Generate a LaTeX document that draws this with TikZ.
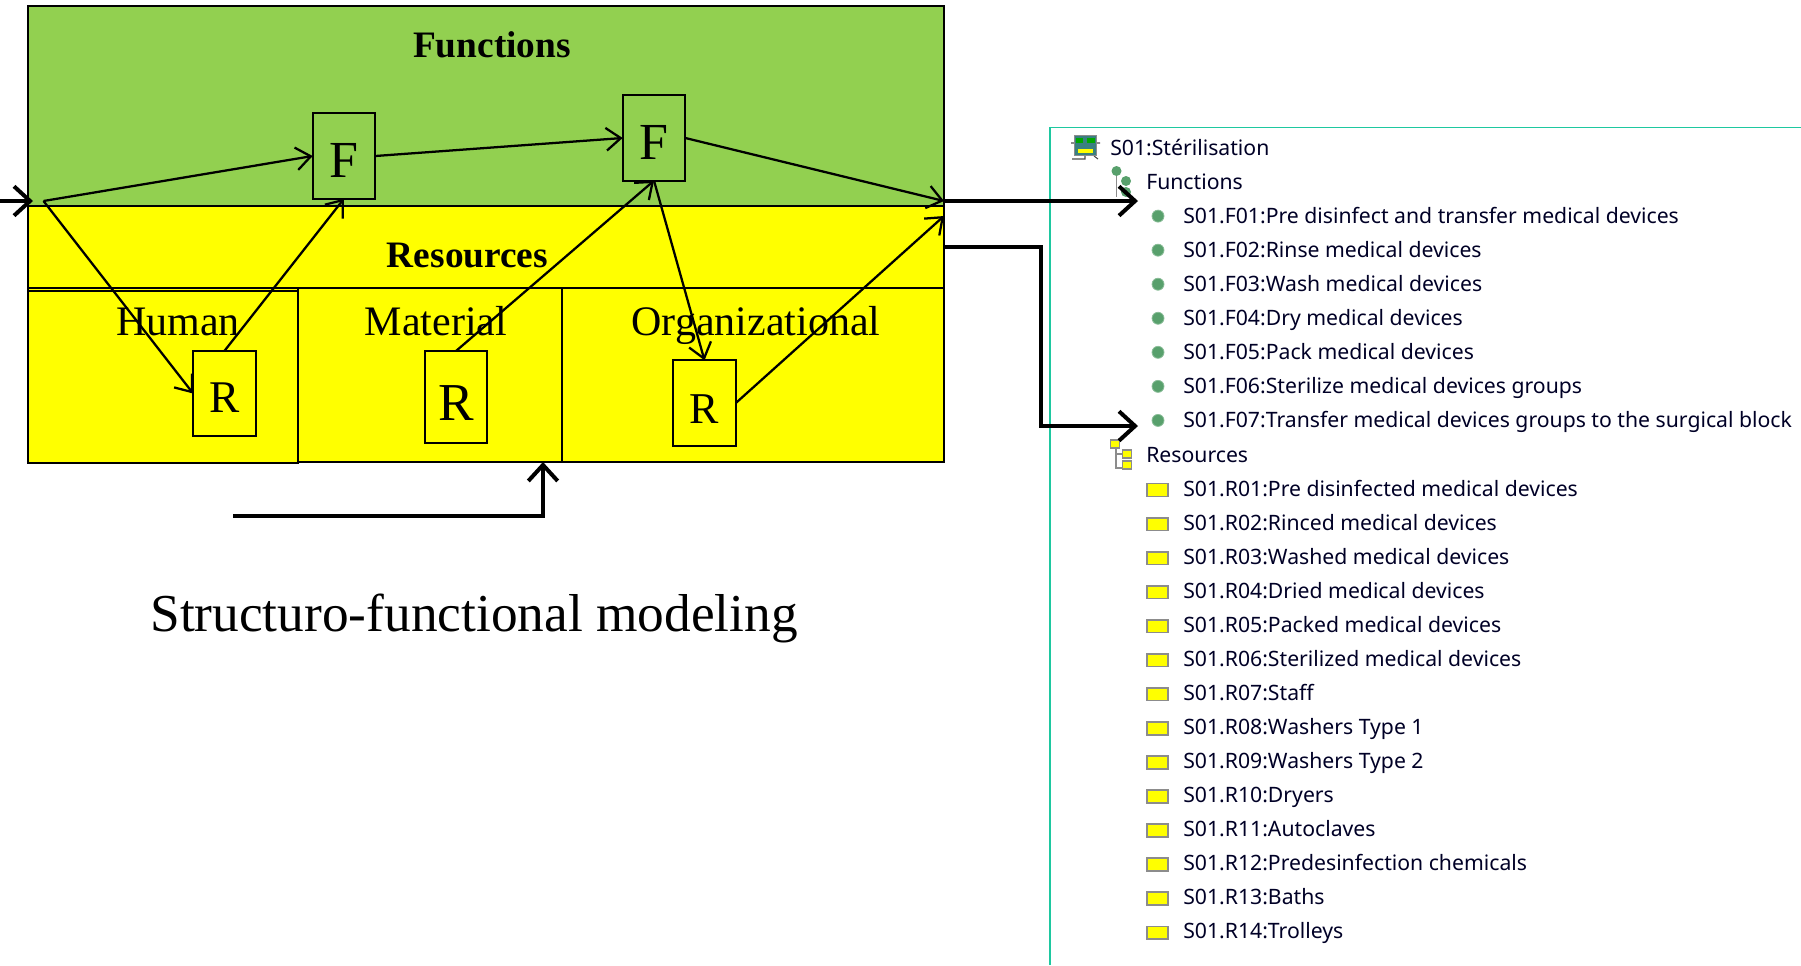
\documentclass[tikz,border=0pt]{standalone}
\usepackage{fontspec}
\setmainfont{Liberation Serif}
\newfontfamily\treefont{Noto Sans}
\usetikzlibrary{arrows.meta}
\definecolor{fungreen}{RGB}{146,208,80}
\definecolor{resyellow}{RGB}{255,255,0}
\definecolor{panelteal}{RGB}{30,200,160}
\definecolor{dotgreen}{RGB}{88,160,108}
\definecolor{icongrey}{RGB}{140,140,140}
\newcommand{\fsize}[1]{\fontsize{#1}{#1}\selectfont}
\tikzset{
  region/.style={draw,line width=1.5pt,anchor=north west,inner sep=0pt,outer sep=0pt},
  boxF/.style={draw,line width=1.5pt,fill=fungreen,inner sep=0pt,outer sep=0pt,minimum width=47pt,minimum height=64pt,font=\fsize{39},text height=31.5pt,text depth=0pt},
  boxR/.style={draw,line width=1.5pt,fill=resyellow,inner sep=0pt,outer sep=0pt,minimum width=47pt,text depth=0pt},
  title/.style={font=\fsize{28}\bfseries,inner sep=0pt},
  part/.style={font=\fsize{31.5},inner sep=0pt,anchor=base},
  flow/.style={line width=1.7pt,-{Straight Barb[length=11pt,width=17pt,line width=1.7pt]}},
  bigflow/.style={line width=3pt,-{Straight Barb[length=12pt,width=22pt,line width=3pt]}},
  rowtext/.style={font=\treefont\fsize{15.9},anchor=base west,inner sep=0pt,text=black!85!blue},
  fundot/.style={circle,fill=dotgreen,draw=dotgreen!70!white,line width=.6pt,minimum size=9pt,inner sep=0pt},
  resmark/.style={draw=icongrey,fill=resyellow,line width=1.2pt,minimum width=15.5pt,minimum height=9.5pt,inner sep=0pt},
  smallres/.style={draw=icongrey,fill=resyellow,line width=.8pt,minimum width=7pt,minimum height=6pt,inner sep=0pt},
  smalldot/.style={circle,fill=dotgreen,minimum size=7.5pt,inner sep=0pt},
  setpart/.style={inner sep=0pt,minimum height=3.5pt}
}
\begin{document}
\begin{tikzpicture}[x=.75pt,y=-.75pt]
\useasboundingbox (0,0) rectangle (1801,965);
% left block
\node[region,fill=fungreen,minimum width=687pt,minimum height=150pt] (functions) at (28,6) {};
\node[region,fill=resyellow,minimum width=687pt,minimum height=192pt] (resources) at (28,206) {};
\node[region,minimum width=687pt,minimum height=61.5pt] (resourcesband) at (28,206) {};
\node[region,minimum width=198pt,minimum height=130.5pt] (material) at (298,288) {};
\node[region,minimum width=286.5pt,minimum height=130.5pt] (organizational) at (562,288) {};
\node[region,fill=resyellow,minimum width=202.5pt,minimum height=129pt] (human) at (28,291) {};
\node[title] (functionslabel) at (492,45) {Functions};
\node[title] (resourceslabel) at (467.5,255) {Resources};
\node[part] (humanlabel) at (178,335) {Human};
\node[part] (materiallabel) at (436,335) {Material};
\node[part] (organizationallabel) at (756,335) {Organizational};
\node[font=\fsize{40},inner sep=0pt,anchor=base] (caption) at (474,631) {Structuro-functional modeling};
% functions and resources
\node[boxF] (fone) at (344,156) {F};
\node[boxF] (ftwo) at (654,138) {F};
\node[boxR,minimum height=64pt,font=\fsize{34},text height=29.2pt] (rone) at (224.5,393.5) {R};
\node[boxR,minimum height=69pt,font=\fsize{40},text height=35pt] (rtwo) at (456,397) {R};
\node[boxR,minimum height=64pt,font=\fsize{33},text height=30.4pt] (rthree) at (704.5,403) {R};
\coordinate (split) at (43.5,201);
\coordinate (inleft) at (0,201);
\coordinate (inright) at (33,201);
\coordinate (fout) at (944,201);
\coordinate (rout) at (944,216);
\coordinate (rstart) at (944,247);
\coordinate (treefun) at (1138,201);
\coordinate (treeres) at (1138,426);
\coordinate (supstart) at (233,516);
\coordinate (supend) at (543,462);
% panel
\coordinate (paneltop) at (1801,127.5);
\coordinate (panelbottom) at (1050,965);
\draw[panelteal,line width=1.3pt] (panelbottom) |- (paneltop);
\node[rowtext] (sterilisation) at (1110,155.5) {S01:Stérilisation};
\node[rowtext] (funhead) at (1146,189.5) {Functions};
\node[rowtext] (reshead) at (1146,462.5) {Resources};
\foreach \n/\t in {2/S01.F01:Pre disinfect and transfer medical devices,3/S01.F02:Rinse medical devices,4/S01.F03:Wash medical devices,5/S01.F04:Dry medical devices,6/S01.F05:Pack medical devices,7/S01.F06:Sterilize medical devices groups,8/S01.F07:Transfer medical devices groups to the surgical block}{
  \node[fundot] (dot\n) at (1158,148+34.05*\n) {};
  \node[rowtext] (row\n) at (1183,155.5+34.05*\n) {\t};
}
\foreach \n/\t in {10/S01.R01:Pre disinfected medical devices,11/S01.R02:Rinced medical devices,12/S01.R03:Washed medical devices,13/S01.R04:Dried medical devices,14/S01.R05:Packed medical devices,15/S01.R06:Sterilized medical devices,16/S01.R07:Staff,17/S01.R08:Washers Type 1,18/S01.R09:Washers Type 2,19/S01.R10:Dryers,20/S01.R11:Autoclaves,21/S01.R12:Predesinfection chemicals,22/S01.R13:Baths,23/S01.R14:Trolleys}{
  \node[resmark] (mark\n) at (1157.5,149.5+34.05*\n) {};
  \node[rowtext] (row\n) at (1183,155.5+34.05*\n) {\t};
}
% icons
\draw[icongrey,line width=1pt] (1116.5,171) -- (1116.5,197);
\node[smalldot] (ftreea) at (1116.5,171) {};
\node[smalldot] (ftreeb) at (1126,181) {};
\node[smalldot] (ftreec) at (1126,192) {};
\draw[icongrey,line width=1pt] (1116,444) -- (1116,468) -- (1124,468) (1116,454) -- (1124,454);
\node[smallres] (rtreea) at (1115,444) {};
\node[smallres] (rtreeb) at (1127,454) {};
\node[smallres] (rtreec) at (1127,465) {};
\draw[black!70,line width=.8pt] (1071,143) -- (1100,143) (1072,159) -- (1085,159) -- (1085,155) (1094,156) -- (1098,159);
\node[draw=icongrey,fill=teal!55!gray,line width=.9pt,minimum width=17pt,minimum height=15.5pt,inner sep=0pt] (seticon) at (1085.5,145.5) {};
\node[setpart,fill=green!65!black,minimum width=5.5pt] (seta) at (1079.5,140.5) {};
\node[setpart,fill=green!65!black,minimum width=5.5pt] (setb) at (1091,140.5) {};
\node[setpart,fill=resyellow,minimum width=11pt] (setc) at (1085.5,151) {};
% connectors
\draw[bigflow] (inleft) -- (inright);
\draw[flow] (split) -- (fone.west);
\draw[flow] (split) -- (rone.west);
\draw[flow] (rone.north) -- (fone.south);
\draw[flow] (fone.east) -- (ftwo.west);
\draw[flow] (rtwo.north) -- (ftwo.south);
\draw[flow] (ftwo.south) -- (rthree.north);
\draw[flow] (ftwo.east) -- (fout);
\draw[flow] (rthree.east) -- (rout);
\draw[bigflow] (fout) -- (treefun);
\draw[bigflow] (rstart) -| (1041,426) -- (treeres);
\draw[bigflow] (supstart) -| (supend);
\end{tikzpicture}
\end{document}
